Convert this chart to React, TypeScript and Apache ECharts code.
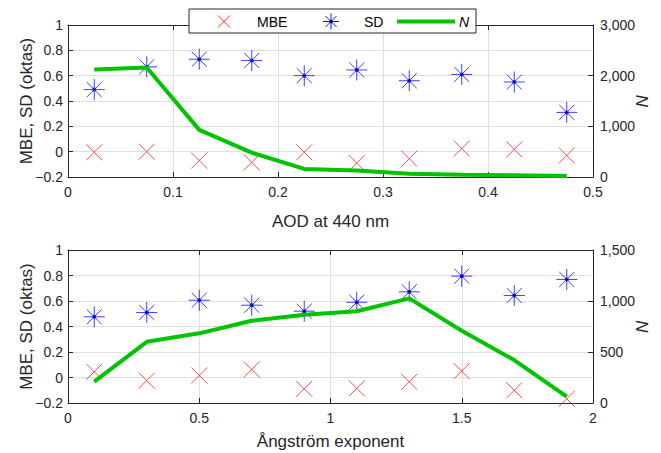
import React, { useEffect, useRef } from "react";
import * as echarts from "echarts";

const aodBins = [0.025, 0.075, 0.125, 0.175, 0.225, 0.275, 0.325, 0.375, 0.425, 0.475];
const aodMBE = [-0.005, 0.0, -0.07, -0.085, -0.005, -0.09, -0.055, 0.025, 0.018, -0.03];
const aodSD = [0.49, 0.67, 0.73, 0.72, 0.6, 0.645, 0.56, 0.61, 0.55, 0.31];
const aodN = [2120, 2160, 930, 480, 160, 130, 65, 45, 33, 20];

const angBins = [0.1, 0.3, 0.5, 0.7, 0.9, 1.1, 1.3, 1.5, 1.7, 1.9];
const angMBE = [0.045, -0.024, 0.016, 0.063, -0.089, -0.085, -0.034, 0.05, -0.1, -0.167];
const angSD = [0.476, 0.51, 0.606, 0.567, 0.52, 0.59, 0.672, 0.795, 0.643, 0.769];
const angN = [210, 600, 683, 807, 866, 900, 1026, 709, 421, 62];

const legendLabels = ["MBE", "SD", "N"];
const topXLabel = "AOD at 440 nm";
const bottomXLabel = "Ångström exponent";
const leftYLabel = "MBE, SD (oktas)";
const rightYLabel = "N";

const FONT = "'Liberation Sans', Arial, sans-serif";
const TXT = "#262626";
const GRIDC = "#dfdfdf";
const RED = "#ff2020";
const BLUE = "#1010ff";
const GREEN = "#00c400";

const CROSS = "path://M0,0L10,10M10,0L0,10";
const STAR = "path://M5,-2L5,12M-2,5L12,5M0,0L10,10M10,0L0,10";

const pairs = (xs: number[], ys: number[]) => xs.map((x, i) => [x, ys[i]]);

const fmtLeft = (v: number) => {
  const r = Math.round(v * 10) / 10;
  return r < 0 ? "\u2212" + String(Math.abs(r)) : String(r);
};
const fmtRight = (v: number) => Math.round(v).toLocaleString("en-US");

export default function App() {
  const ref = useRef<HTMLDivElement>(null);
  useEffect(() => {
    if (!ref.current) return;
    const chart = echarts.init(ref.current, null, { renderer: "svg" });
    const xBase = (gi: number, min: number, max: number, interval: number, name: string, gap: number) => ({
      type: "value",
      gridIndex: gi,
      min,
      max,
      interval,
      position: "bottom",
      name,
      nameLocation: "middle",
      nameGap: gap,
      nameMoveOverlap: false,
      nameTextStyle: { fontFamily: FONT, fontSize: 17, color: TXT },
      axisLine: { show: true, onZero: false, lineStyle: { color: TXT, width: 1 } },
      axisTick: { show: true, inside: true, length: 5, lineStyle: { color: TXT } },
      axisLabel: { fontFamily: FONT, fontSize: 14, color: TXT, margin: 8 },
      splitLine: { show: true, lineStyle: { color: GRIDC, width: 1 } },
    });
    const xTop = (gi: number, min: number, max: number, interval: number) => ({
      type: "value",
      gridIndex: gi,
      min,
      max,
      interval,
      position: "top",
      axisLine: { show: true, onZero: false, lineStyle: { color: TXT, width: 1 } },
      axisTick: { show: true, inside: true, length: 5, lineStyle: { color: TXT } },
      axisLabel: { show: false },
      splitLine: { show: false },
    });
    const yLeft = (gi: number) => ({
      type: "value",
      gridIndex: gi,
      min: -0.2,
      max: 1,
      interval: 0.2,
      position: "left",
      name: leftYLabel,
      nameLocation: "middle",
      nameGap: 33,
      nameMoveOverlap: false,
      nameTextStyle: { fontFamily: FONT, fontSize: 17, color: TXT },
      axisLine: { show: true, onZero: false, lineStyle: { color: TXT, width: 1 } },
      axisTick: { show: true, inside: true, length: 5, lineStyle: { color: TXT } },
      axisLabel: { fontFamily: FONT, fontSize: 14, color: TXT, margin: 5, formatter: fmtLeft },
      splitLine: { show: true, lineStyle: { color: GRIDC, width: 1 } },
    });
    const yRight = (gi: number, max: number, interval: number) => ({
      type: "value",
      gridIndex: gi,
      min: 0,
      max,
      interval,
      position: "right",
      name: rightYLabel,
      nameLocation: "middle",
      nameRotate: -90,
      nameGap: 40,
      nameMoveOverlap: false,
      nameTextStyle: { fontFamily: FONT, fontSize: 17, color: TXT, fontStyle: "italic" },
      axisLine: { show: true, onZero: false, lineStyle: { color: TXT, width: 1 } },
      axisTick: { show: true, inside: true, length: 5, lineStyle: { color: TXT } },
      axisLabel: { fontFamily: FONT, fontSize: 14, color: TXT, margin: 7, formatter: fmtRight },
      splitLine: { show: false },
    });
    const crossSeries = (xi: number, yi: number, xs: number[], ys: number[]) => ({
      type: "scatter",
      xAxisIndex: xi,
      yAxisIndex: yi,
      data: pairs(xs, ys),
      symbol: CROSS,
      symbolSize: 16,
      itemStyle: { color: "rgba(0,0,0,0)", borderColor: RED, borderWidth: 1 },
      z: 3,
    });
    const starSeries = (xi: number, yi: number, xs: number[], ys: number[]) => [
      {
        type: "scatter",
        xAxisIndex: xi,
        yAxisIndex: yi,
        data: pairs(xs, ys),
        symbol: STAR,
        symbolSize: 21,
        itemStyle: { color: "rgba(0,0,0,0)", borderColor: BLUE, borderWidth: 1 },
        z: 3,
      },
      {
        type: "scatter",
        xAxisIndex: xi,
        yAxisIndex: yi,
        data: pairs(xs, ys),
        symbol: "circle",
        symbolSize: 4,
        itemStyle: { color: "#0000c0" },
        z: 4,
      },
    ];
    const lineSeries = (xi: number, yi: number, xs: number[], ys: number[]) => ({
      type: "line",
      xAxisIndex: xi,
      yAxisIndex: yi,
      data: pairs(xs, ys),
      symbol: "none",
      lineStyle: { color: GREEN, width: 4 },
      z: 5,
    });

    const lx = 189, ly = 9, lw = 287, lh = 24, cy = ly + 12.5;
    const graphic = [
      {
        type: "rect",
        z: 100,
        shape: { x: lx, y: ly, width: lw, height: lh },
        style: { fill: "#ffffff", stroke: TXT, lineWidth: 1 },
      },
      { type: "line", z: 101, shape: { x1: 218, y1: cy - 6, x2: 230, y2: cy + 6 }, style: { stroke: RED, lineWidth: 1 } },
      { type: "line", z: 101, shape: { x1: 230, y1: cy - 6, x2: 218, y2: cy + 6 }, style: { stroke: RED, lineWidth: 1 } },
      { type: "text", z: 101, x: 257, y: cy, style: { text: legendLabels[0], font: `14px ${FONT}`, fill: "#000", verticalAlign: "middle" } },
      { type: "line", z: 101, shape: { x1: 331, y1: cy - 8, x2: 331, y2: cy + 8 }, style: { stroke: BLUE, lineWidth: 1 } },
      { type: "line", z: 101, shape: { x1: 323, y1: cy, x2: 339, y2: cy }, style: { stroke: BLUE, lineWidth: 1 } },
      { type: "line", z: 101, shape: { x1: 325.5, y1: cy - 5.5, x2: 336.5, y2: cy + 5.5 }, style: { stroke: BLUE, lineWidth: 1 } },
      { type: "line", z: 101, shape: { x1: 336.5, y1: cy - 5.5, x2: 325.5, y2: cy + 5.5 }, style: { stroke: BLUE, lineWidth: 1 } },
      { type: "circle", z: 102, shape: { cx: 331, cy, r: 1.8 }, style: { fill: "#0000c0" } },
      { type: "text", z: 101, x: 364, y: cy, style: { text: legendLabels[1], font: `14px ${FONT}`, fill: "#000", verticalAlign: "middle" } },
      { type: "line", z: 101, shape: { x1: 397, y1: cy, x2: 455, y2: cy }, style: { stroke: GREEN, lineWidth: 4 } },
      { type: "text", z: 101, x: 459, y: cy, style: { text: legendLabels[2], font: `italic 14px ${FONT}`, fill: "#000", verticalAlign: "middle" } },
    ];

    chart.setOption({
      animation: false,
      backgroundColor: "#ffffff",
      textStyle: { fontFamily: FONT },
      grid: [
        { left: 68, top: 25, width: 525, height: 152, show: false, containLabel: false, outerBoundsMode: "none" },
        { left: 68, top: 250, width: 525, height: 153, show: false, containLabel: false, outerBoundsMode: "none" },
      ],
      xAxis: [
        xBase(0, 0, 0.5, 0.1, topXLabel, 36),
        xTop(0, 0, 0.5, 0.1),
        xBase(1, 0, 2, 0.5, bottomXLabel, 30),
        xTop(1, 0, 2, 0.5),
      ],
      yAxis: [yLeft(0), yRight(0, 3000, 1000), yLeft(1), yRight(1, 1500, 500)],
      series: [
        crossSeries(0, 0, aodBins, aodMBE),
        ...starSeries(0, 0, aodBins, aodSD),
        lineSeries(0, 1, aodBins, aodN),
        crossSeries(2, 2, angBins, angMBE),
        ...starSeries(2, 2, angBins, angSD),
        lineSeries(2, 3, angBins, angN),
      ],
      graphic,
    });
    return () => chart.dispose();
  }, []);
  return (
    <div
      ref={ref}
      style={{ position: "absolute", left: 0, top: 0, width: 661, height: 453, background: "#fff" }}
    />
  );
}
